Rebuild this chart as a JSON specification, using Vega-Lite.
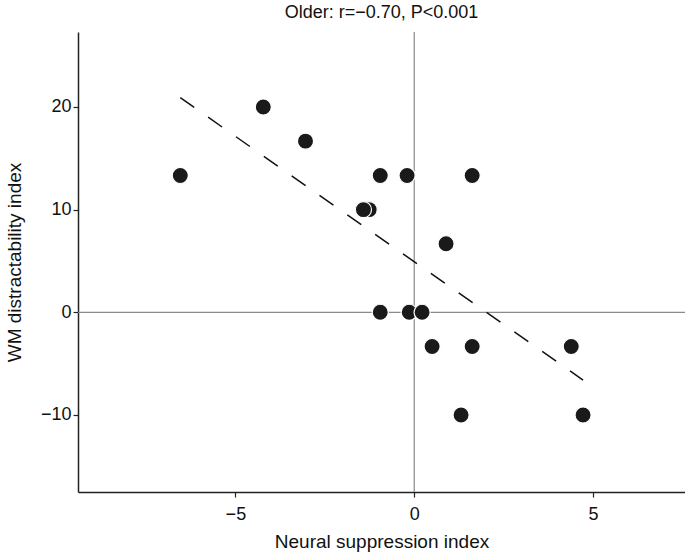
{
  "$schema": "https://vega.github.io/schema/vega-lite/v6.json",
  "autosize": "none",
  "width": 607,
  "height": 460,
  "padding": {"left": 78, "top": 32, "right": 0, "bottom": 61},
  "background": "white",
  "title": {
    "text": "Older: r=−0.70, P<0.001",
    "font": "Liberation Sans",
    "fontSize": 18,
    "fontWeight": "normal",
    "color": "#111",
    "anchor": "middle",
    "offset": 9
  },
  "config": {
    "view": {"stroke": null},
    "axis": {
      "grid": false,
      "domainColor": "#222",
      "domainWidth": 1.5,
      "tickColor": "#222",
      "tickWidth": 1.2,
      "tickSize": 5,
      "labelFont": "Liberation Sans",
      "labelFontSize": 18,
      "labelColor": "#111",
      "titleFont": "Liberation Sans",
      "titleFontSize": 19,
      "titleFontWeight": "normal",
      "titleColor": "#111"
    }
  },
  "datasets": {
    "points": [
      {"nsi": -6.54, "wm": 13.33},
      {"nsi": -4.22, "wm": 20},
      {"nsi": -3.04, "wm": 16.67},
      {"nsi": -0.95, "wm": 13.33},
      {"nsi": -0.2, "wm": 13.33},
      {"nsi": 1.62, "wm": 13.33},
      {"nsi": -1.26, "wm": 10},
      {"nsi": -1.42, "wm": 10},
      {"nsi": 0.89, "wm": 6.67},
      {"nsi": -0.95, "wm": 0},
      {"nsi": -0.14, "wm": 0},
      {"nsi": 0.22, "wm": 0},
      {"nsi": 0.5, "wm": -3.33},
      {"nsi": 1.62, "wm": -3.33},
      {"nsi": 4.39, "wm": -3.33},
      {"nsi": 1.31, "wm": -10},
      {"nsi": 4.72, "wm": -10}
    ],
    "fit": [
      {"nsi": -6.54, "wm": 20.9},
      {"nsi": 4.72, "wm": -6.6}
    ]
  },
  "encoding": {
    "x": {
      "field": "nsi",
      "type": "quantitative",
      "scale": {"domain": [-9.4, 7.57], "nice": false, "zero": false},
      "axis": {"values": [-5, 0, 5], "title": "Neural suppression index", "labelPadding": 8, "titlePadding": 9}
    },
    "y": {
      "field": "wm",
      "type": "quantitative",
      "scale": {"domain": [-17.5, 27.3], "nice": false, "zero": false},
      "axis": {"values": [-10, 0, 10, 20], "title": "WM distractability index", "labelPadding": 2, "titlePadding": 16}
    }
  },
  "layer": [
    {
      "data": {"values": [{"v": 0}]},
      "mark": {"type": "rule", "color": "#8a8a8a", "strokeWidth": 1.2},
      "encoding": {"x": {"field": "v", "type": "quantitative"}, "y": null}
    },
    {
      "data": {"values": [{"v": 0}]},
      "mark": {"type": "rule", "color": "#8a8a8a", "strokeWidth": 1.2},
      "encoding": {"y": {"field": "v", "type": "quantitative"}, "x": null}
    },
    {
      "data": {"name": "fit"},
      "mark": {"type": "line", "color": "#111", "strokeWidth": 1.5, "strokeDash": [17, 17]}
    },
    {
      "data": {"name": "points"},
      "mark": {"type": "point", "filled": true, "shape": "circle", "size": 260, "color": "#1a1a1a", "opacity": 1, "stroke": "white", "strokeWidth": 1.2, "strokeOpacity": 1}
    }
  ]
}
